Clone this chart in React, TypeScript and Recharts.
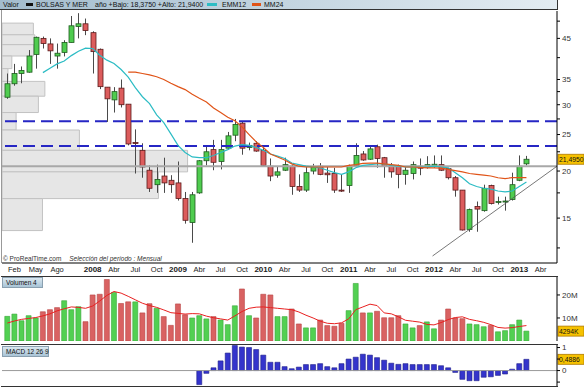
import React from 'react';
import { ComposedChart, Bar, Line, XAxis, YAxis, ReferenceLine, ReferenceArea, Cell } from 'recharts';

// monthly candles, Ene 2007 .. Feb 2013
const months = [
  'Ene 07', 'Feb 07', 'Mar 07', 'Abr 07', 'May 07', 'Jun 07', 'Jul 07', 'Ago 07', 'Sep 07', 'Oct 07', 'Nov 07', 'Dic 07',
  'Ene 08', 'Feb 08', 'Mar 08', 'Abr 08', 'May 08', 'Jun 08', 'Jul 08', 'Ago 08', 'Sep 08', 'Oct 08', 'Nov 08', 'Dic 08',
  'Ene 09', 'Feb 09', 'Mar 09', 'Abr 09', 'May 09', 'Jun 09', 'Jul 09', 'Ago 09', 'Sep 09', 'Oct 09', 'Nov 09', 'Dic 09',
  'Ene 10', 'Feb 10', 'Mar 10', 'Abr 10', 'May 10', 'Jun 10', 'Jul 10', 'Ago 10', 'Sep 10', 'Oct 10', 'Nov 10', 'Dic 10',
  'Ene 11', 'Feb 11', 'Mar 11', 'Abr 11', 'May 11', 'Jun 11', 'Jul 11', 'Ago 11', 'Sep 11', 'Oct 11', 'Nov 11', 'Dic 11',
  'Ene 12', 'Feb 12', 'Mar 12', 'Abr 12', 'May 12', 'Jun 12', 'Jul 12', 'Ago 12', 'Sep 12', 'Oct 12', 'Nov 12', 'Dic 12',
  'Ene 13', 'Feb 13',
];

const open = [
  31.4, 34.1, 36.3, 36.6, 40.8, 45.0, 43.5, 40.4, 41.3, 43.9,
  48.4, 49.2, 46.6, 42.1, 33.4, 30.9, 33.2, 30.1, 23.8, 22.7,
  20.1, 18.4, 19.4, 18.9, 18.6, 16.9, 14.6, 17.5, 21.3, 22.8,
  21.2, 23.0, 24.9, 26.8, 23.1, 23.7, 22.7, 20.6, 19.5, 20.1,
  20.6, 18.2, 17.8, 20.0, 20.6, 19.75, 19.7, 17.8, 18.3, 20.7,
  22.2, 21.5, 23.2, 21.7, 20.7, 20.6, 19.6, 19.7, 20.6, 20.5,
  20.6, 20.8, 20.3, 19.2, 17.8, 14.0, 16.1, 15.7, 18.3, 16.5,
  16.6, 16.8, 18.9, 20.9,
];
const high = [
  36.3, 38.5, 37.9, 41.9, 45.5, 45.5, 45.0, 43.6, 44.5, 51.6,
  52.5, 50.8, 47.0, 42.3, 33.4, 33.4, 35.0, 30.1, 25.8, 23.7,
  20.7, 20.8, 21.7, 19.5, 21.2, 17.6, 17.6, 21.4, 23.4, 24.2,
  24.2, 25.4, 27.5, 27.0, 23.8, 24.0, 23.1, 21.6, 20.6, 21.7,
  20.8, 19.6, 20.6, 20.9, 21.0, 20.6, 20.4, 19.6, 20.8, 23.7,
  22.6, 23.3, 23.5, 21.8, 21.0, 20.8, 20.6, 21.2, 21.6, 21.9,
  22.0, 22.0, 20.4, 19.4, 17.8, 15.9, 16.6, 18.4, 18.4, 17.1,
  17.1, 19.8, 22.0, 21.94,
];
const low = [
  31.1, 33.7, 34.2, 36.5, 37.4, 42.3, 38.5, 37.4, 40.3, 43.9,
  45.0, 45.9, 36.3, 33.0, 27.0, 28.6, 29.5, 23.4, 19.7, 19.2,
  17.6, 17.5, 17.5, 17.5, 16.7, 14.5, 12.9, 17.4, 20.7, 20.1,
  20.2, 22.8, 24.0, 22.1, 22.7, 22.5, 20.6, 18.8, 19.2, 20.0,
  17.3, 17.6, 17.6, 19.6, 19.5, 18.6, 17.5, 17.6, 17.5, 20.6,
  21.3, 21.4, 20.4, 19.2, 19.2, 18.0, 18.4, 19.0, 19.5, 20.3,
  20.4, 20.0, 19.0, 17.1, 13.9, 13.8, 13.8, 15.6, 16.3, 16.3,
  15.7, 16.7, 18.8, 20.7,
];
const close = [
  34.1, 36.3, 37.0, 40.4, 45.3, 43.6, 41.7, 41.1, 43.9, 48.6,
  49.2, 47.2, 41.5, 33.5, 31.1, 32.5, 30.0, 23.6, 23.7, 20.5,
  18.0, 19.0, 18.6, 18.4, 16.9, 14.8, 17.3, 21.3, 22.5, 21.1,
  22.8, 24.8, 26.6, 23.0, 23.4, 22.6, 20.7, 19.4, 19.9, 20.8,
  18.2, 17.8, 19.8, 20.5, 19.6, 19.55, 17.8, 17.7, 20.6, 22.0,
  21.4, 22.9, 21.6, 20.6, 19.9, 19.6, 20.1, 20.8, 20.35, 20.8,
  20.85, 20.1, 19.2, 17.8, 13.95, 15.8, 15.85, 18.0, 16.4, 16.6,
  16.65, 18.4, 20.6, 21.495,
];

const emm12 = [
  null, null, null, null, null, 36.5, 37.5, 38.5, 39.2, 40.5,
  41.6, 42.4, 42.3, 40.6, 39.4, 38.6, 37.2, 35.5, 33.3, 31.5,
  30.2, 28.2, 26.9, 25.1, 23.4, 22.4, 21.8, 21.7, 21.7, 22.0,
  22.4, 22.8, 23.3, 23.5, 23.4, 23.1, 22.7, 22.2, 21.9, 21.6,
  21.0, 20.8, 20.6, 20.5, 20.4, 20.1, 19.8, 19.6, 19.9, 20.4,
  20.7, 20.8, 20.9, 20.9, 20.7, 20.6, 20.5, 20.5, 20.5, 20.5,
  20.6, 20.5, 20.4, 19.8, 19.2, 18.5, 18.2, 18.0, 17.9, 17.7,
  17.6, 17.7, 18.2, 18.7,
];
const mm24 = [
  null, null, null, null, null, null, null, null, null, null,
  null, null, null, null, null, null, null, 36.6, 36.6, 36.3,
  36.0, 35.6, 35.0, 34.2, 33.5, 32.9, 32.0, 31.2, 30.5, 29.4,
  28.6, 27.8, 27.2, 26.2, 25.0, 23.9, 23.1, 22.2, 21.8, 21.4,
  20.9, 20.6, 20.5, 20.5, 20.5, 20.5, 20.5, 20.5, 20.7, 20.8,
  20.95, 21.0, 21.0, 20.9, 20.8, 20.7, 20.5, 20.5, 20.45, 20.4,
  20.4, 20.35, 20.2, 20.05, 19.9, 19.7, 19.6, 19.5, 19.4, 19.2,
  19.1, 19.2, 19.2, 19.2,
];

// volume in millions
const volume = [
  10.7, 11.7, 8.8, 11.0, 10.0, 12.7, 13.6, 14.5, 17.5, 13.6,
  14.9, 8.4, 20.0, 20.3, 26.7, 21.1, 16.3, 17.0, 17.0, 12.2,
  16.2, 14.2, 10.6, 6.8, 16.1, 11.4, 10.0, 11.0, 9.6, 10.6,
  9.1, 7.1, 15.3, 22.6, 11.0, 10.0, 20.3, 20.0, 10.6, 10.6,
  13.9, 7.4, 5.7, 5.7, 9.1, 6.7, 6.4, 7.7, 13.2, 25.0,
  12.2, 12.2, 12.9, 10.1, 10.1, 11.0, 7.4, 5.7, 6.7, 8.3,
  5.3, 9.1, 13.9, 10.0, 9.7, 7.4, 7.1, 6.2, 6.8, 4.0,
  4.5, 7.1, 9.1, 4.294,
];
const volumeMa = [
  7.8, 8.7, 9.4, 9.8, 10.2, 10.9, 11.8, 13.1, 14.0, 14.8,
  14.6, 14.2, 15.2, 17.4, 19.8, 21.5, 20.8, 19.4, 17.9, 16.4,
  15.4, 14.6, 13.5, 12.3, 12.0, 11.7, 11.9, 11.8, 10.8, 10.1,
  9.6, 9.1, 10.9, 12.8, 14.2, 14.7, 14.8, 14.5, 14.2, 13.9,
  13.6, 12.6, 11.2, 10.0, 8.6, 7.7, 7.5, 7.9, 9.6, 13.6,
  14.8, 16.0, 15.4, 12.2, 11.8, 10.5, 9.0, 8.6, 8.2, 7.2,
  7.0, 8.0, 9.3, 10.2, 10.5, 9.4, 8.8, 8.1, 7.1, 5.9,
  5.6, 5.8, 6.3, 6.7,
];

const macd = [
  null, null, null, null, null, null, null, null, null, null,
  null, null, null, null, null, null, null, null, null, null,
  null, null, null, null, null, null, null, -0.61, -0.12, 0.12,
  0.42, 0.76, 1.09, 1.02, 1.0, 0.91, 0.67, 0.36, 0.36, 0.17,
  0.08, 0.15, 0.26, 0.26, 0.30, 0.17, 0.12, 0.30, 0.50, 0.58,
  0.71, 0.67, 0.56, 0.45, 0.32, 0.27, 0.30, 0.26, 0.26, 0.26,
  0.26, 0.21, 0.12, -0.08, -0.38, -0.44, -0.44, -0.29, -0.27, -0.21,
  -0.15, 0.06, 0.30, 0.4886,
];

// volume-at-price profile (price bins, relative volume)
const profileHi = [49.4, 46.0, 43.3, 40.4, 37.4, 34.6, 31.6, 28.6, 25.7, 22.7, 19.9, 16.9];
const profileLo = [46.0, 43.3, 40.4, 37.4, 34.6, 31.6, 28.6, 25.7, 22.7, 19.9, 16.9, 13.9];
const profileVol = [16.9, 17.7, 17.0, 5.3, 3.2, 23.1, 19.6, 7.6, 41.7, 100, 84.3, 21.8];

const resistances = [27.1, 23.3];
const pivotLevel = 20.6;
const trendStart = { i: 59.8, p: 11.9 };
const trendEnd = { i: 77.3, p: 20.6 };

const xTicks = [
  { i: 1, label: 'Feb' }, { i: 4, label: 'May' }, { i: 7, label: 'Ago' }, { i: 12, label: '2008' },
  { i: 15, label: 'Abr' }, { i: 18, label: 'Jul' }, { i: 21, label: 'Oct' }, { i: 24, label: '2009' },
  { i: 27, label: 'Abr' }, { i: 30, label: 'Jul' }, { i: 33, label: 'Oct' }, { i: 36, label: '2010' },
  { i: 39, label: 'Abr' }, { i: 42, label: 'Jul' }, { i: 45, label: 'Oct' }, { i: 48, label: '2011' },
  { i: 51, label: 'Abr' }, { i: 54, label: 'Jul' }, { i: 57, label: 'Oct' }, { i: 60, label: '2012' },
  { i: 63, label: 'Abr' }, { i: 66, label: 'Jul' }, { i: 69, label: 'Oct' }, { i: 72, label: '2013' },
  { i: 75, label: 'Abr' },
];
const priceTicks = [12.5, 15, 17.5, 20, 22.5, 25, 27.5, 30, 32.5, 35, 40, 45, 50];
const priceLabels = [15, 20, 25, 30, 35, 45];

const X_DOMAIN: [number, number] = [-0.75, 77.3];
const FONT = '"Liberation Sans", Arial, sans-serif';

const rows = months.map((m, i) => ({
  i, m,
  open: open[i], high: high[i], low: low[i], close: close[i],
  range: [low[i], high[i]],
  emm12: emm12[i], mm24: mm24[i],
  vol: volume[i], volMa: volumeMa[i], macd: macd[i],
  up: i === 0 || close[i] >= close[i - 1],
}));

const Candle = (props: any) => {
  const { x, y, width, height, payload } = props;
  if (!payload) return null;
  const top = Math.min(y, y + height);
  const h = Math.abs(height);
  const lh = Math.log(payload.high);
  const ll = Math.log(payload.low);
  const py = (v: number) => (lh === ll ? top : top + (h * (lh - Math.log(v))) / (lh - ll));
  const up = payload.close >= payload.open;
  const bTop = py(Math.max(payload.open, payload.close));
  const bBot = py(Math.min(payload.open, payload.close));
  const cx = Math.round(x + width / 2) + 0.5;
  return (
    <g>
      <line x1={cx} x2={cx} y1={top} y2={top + h} stroke="#4a4a4a" strokeWidth={1} />
      <rect
        x={cx - 2.5} y={bTop} width={5} height={Math.max(1, bBot - bTop)}
        fill={up ? '#4fcc4f' : '#dc5c5c'} stroke={up ? '#1f5a1f' : '#5a1a1a'} strokeWidth={0.8}
      />
    </g>
  );
};

const MonthTick = (props: any) => {
  const { x, y, payload } = props;
  const t = xTicks.find(d => d.i === payload.value);
  if (!t) return null;
  const isYear = /^\d+$/.test(t.label);
  return (
    <text x={x} y={y + 1} textAnchor="middle" fontSize={isYear ? 8 : 7.5} fontWeight={isYear ? 'bold' : 'normal'}
      fill="#222" fontFamily={FONT}>
      {t.label}
    </text>
  );
};

const valueTag = (text: string) => (p: any) => {
  const vb = p.viewBox || {};
  const right = (vb.x || 0) + (vb.width || 0);
  return (
    <g>
      <rect x={right + 1} y={vb.y - 5} width={26} height={10} fill="#f6c200" stroke="#b07a00" strokeWidth={0.8} />
      <text x={right + 2} y={vb.y + 3} fontSize={6.8} fill="#111" fontFamily={FONT}>{text}</text>
    </g>
  );
};

const axisTick = { fontSize: 8, fill: '#333', fontFamily: FONT };

function PanelLabel({ text, top, width }: { text: string; top: number; width: number }) {
  return (
    <div style={{
      position: 'absolute', left: 2, top, width, height: 11, boxSizing: 'border-box',
      background: 'linear-gradient(#dbe8f0, #a9c4d6)', border: '1px solid #8aa0b0',
      fontSize: 6.5, lineHeight: '9px', color: '#111', paddingLeft: 3, whiteSpace: 'nowrap',
    }}>{text}</div>
  );
}

export default function App() {
  const profileWidth = 26.1;
  return (
    <div style={{ position: 'absolute', left: 0, top: 0, width: 584, height: 389, background: '#fff', fontFamily: FONT, overflow: 'hidden' }}>
      {/* price panel */}
      <div style={{ position: 'absolute', left: 0, top: 0 }}>
        <ComposedChart width={584} height={278} data={rows} margin={{ top: 11, right: 0, bottom: 0, left: 2 }}>
          <XAxis type="number" dataKey="i" domain={X_DOMAIN} allowDataOverflow ticks={xTicks.map(t => t.i)} interval={0}
            tick={<MonthTick />} tickLine={false} axisLine={{ stroke: '#000' }} height={15} />
          <YAxis orientation="right" scale="log" domain={[11.4, 53.2]} allowDataOverflow ticks={priceTicks} interval={0}
            tickFormatter={(v: number) => (priceLabels.includes(v) ? String(v) : '')} width={27}
            tick={axisTick} tickSize={3} tickMargin={2} axisLine={{ stroke: '#000' }} tickLine={{ stroke: '#000' }} />
          {profileVol.map((v, k) => (
            <ReferenceArea key={k} x1={X_DOMAIN[0]} x2={X_DOMAIN[0] + (v / 100) * profileWidth}
              y1={profileLo[k]} y2={profileHi[k]} fill="#e6e6e6" fillOpacity={1} stroke="#c2c2c2" strokeWidth={1} />
          ))}
          <ReferenceLine y={pivotLevel} stroke="#a8a8a8" strokeWidth={2} />
          {resistances.map(r => (
            <ReferenceLine key={r} y={r} stroke="#2626c4" strokeWidth={2} strokeDasharray="12 6" />
          ))}
          <ReferenceLine segment={[{ x: trendStart.i, y: trendStart.p }, { x: trendEnd.i, y: trendEnd.p }]}
            stroke="#555" strokeWidth={0.8} ifOverflow="visible" />
          <Bar dataKey="range" barSize={5} shape={<Candle />} isAnimationActive={false} />
          <Line dataKey="emm12" stroke="#2cbcc4" strokeWidth={1.2} dot={false} isAnimationActive={false} />
          <Line dataKey="mm24" stroke="#e05418" strokeWidth={1.2} dot={false} isAnimationActive={false} />
          <ReferenceLine y={close[close.length - 1]} stroke="none" label={valueTag('21,4950')} />
        </ComposedChart>
      </div>

      {/* header */}
      <div style={{
        position: 'absolute', left: 0, top: 0, width: 558, height: 10, boxSizing: 'border-box',
        background: 'linear-gradient(to right, #a3bccd, #e3ecf2)', borderBottom: '1px solid #333', borderRight: '1px solid #333',
        fontSize: 7, lineHeight: '9px', color: '#111', whiteSpace: 'nowrap',
      }}>
        <span style={{ position: 'absolute', left: 3 }}>Valor</span>
        <span style={{ position: 'absolute', left: 26, top: 3, width: 7, height: 3, background: '#111' }} />
        <span style={{ position: 'absolute', left: 36 }}>BOLSAS Y MER</span>
        <span style={{ position: 'absolute', left: 95 }}>año +Bajo: 18,3750 +Alto: 21,9400</span>
        <span style={{ position: 'absolute', left: 207, top: 3, width: 10, height: 3, background: '#2cbcc4' }} />
        <span style={{ position: 'absolute', left: 222 }}>EMM12</span>
        <span style={{ position: 'absolute', left: 252, top: 3, width: 9, height: 3, background: '#e05418' }} />
        <span style={{ position: 'absolute', left: 264 }}>MM24</span>
      </div>
      <div style={{ position: 'absolute', left: 1, top: 10, width: 1, height: 253, background: '#999' }} />
      <div style={{ position: 'absolute', left: 3, top: 255, fontSize: 6.5, color: '#333', whiteSpace: 'nowrap' }}>
        © ProRealTime.com <span style={{ fontStyle: 'italic', marginLeft: 6 }}>Selección del período : Mensual</span>
      </div>

      {/* volume panel */}
      <div style={{ position: 'absolute', left: 0, top: 276 }}>
        <ComposedChart width={584} height={65} data={rows} margin={{ top: 1, right: 0, bottom: 0, left: 2 }}>
          <XAxis type="number" dataKey="i" domain={X_DOMAIN} allowDataOverflow hide />
          <YAxis orientation="right" domain={[0, 27.8]} allowDataOverflow ticks={[10, 20]} interval={0}
            tickFormatter={(v: number) => `${v}M`} width={27} tick={axisTick} tickSize={3} tickMargin={2}
            axisLine={{ stroke: '#000' }} tickLine={{ stroke: '#000' }} />
          <Bar dataKey="vol" barSize={5} isAnimationActive={false}>
            {rows.map(r => (
              <Cell key={r.i} fill={r.up ? '#52d052' : '#d96262'} stroke={r.up ? '#3aa83a' : '#b84444'} strokeWidth={0.6} />
            ))}
          </Bar>
          <Line dataKey="volMa" stroke="#e82020" strokeWidth={1} dot={false} isAnimationActive={false} />
          <ReferenceLine y={volume[volume.length - 1]} stroke="none" label={valueTag('4294K')} />
        </ComposedChart>
      </div>
      <div style={{ position: 'absolute', left: 1, top: 276, width: 557, height: 1, background: '#333' }} />
      <PanelLabel text="Volumen 4" top={277} width={41} />

      {/* MACD panel */}
      <div style={{ position: 'absolute', left: 0, top: 340 }}>
        <ComposedChart width={584} height={46} data={rows} margin={{ top: 5, right: 0, bottom: 0, left: 2 }}>
          <XAxis type="number" dataKey="i" domain={X_DOMAIN} allowDataOverflow hide />
          <YAxis orientation="right" domain={[-0.67, 1.11]} allowDataOverflow ticks={[-0.5, 0, 0.5, 1]} interval={0}
            tickFormatter={(v: number) => (v === 0 || v === 1 ? String(v) : '')} width={27} tick={axisTick}
            tickSize={3} tickMargin={2} axisLine={{ stroke: '#000' }} tickLine={{ stroke: '#000' }} />
          <ReferenceLine y={0} stroke="#999" strokeWidth={1} />
          <Bar dataKey="macd" barSize={5} fill="#3434cc" stroke="#1c1c88" strokeWidth={0.6} isAnimationActive={false} />
          <ReferenceLine y={macd[macd.length - 1] as number} stroke="none" label={valueTag('0,4886')} />
        </ComposedChart>
      </div>
      <div style={{ position: 'absolute', left: 1, top: 344, width: 557, height: 1, background: '#333' }} />
      <div style={{ position: 'absolute', left: 1, top: 386, width: 557, height: 1, background: '#333' }} />
      <PanelLabel text="MACD 12 26 9" top={346} width={47} />
    </div>
  );
}
